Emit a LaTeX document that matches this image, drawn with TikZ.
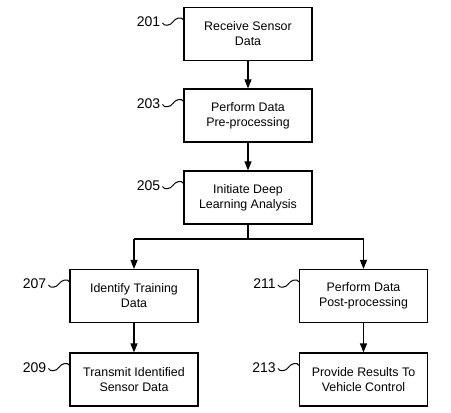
\documentclass[tikz,border=0pt]{standalone}
\usepackage{fontspec}
\setmainfont{Liberation Sans}
\usetikzlibrary{arrows.meta,calc}
\begin{document}
\begin{tikzpicture}[x=1pt,y=-1pt,
  stepbox/.style={draw,line width=1.2pt,minimum width=128pt,minimum height=53pt,align=center,font=\fontsize{12.4}{15}\selectfont,inner sep=0pt},
  lbl/.style={font=\fontsize{14}{15}\selectfont,inner sep=0pt,anchor=east},
  arr/.style={line width=1.2pt,-{Triangle[length=9pt,width=7pt]}},
  ln/.style={line width=1.2pt},
  sq/.style={line width=1pt}]
\useasboundingbox (0,0) rectangle (451,413);
\node[stepbox] (b1) at (248,34) {Receive Sensor\\Data};
\node[stepbox] (b3) at (248,115.5) {Perform Data\\Pre-processing};
\node[stepbox] (b5) at (248,197.5) {Initiate Deep\\Learning Analysis};
\node[stepbox] (b7) at (134,296) {Identify Training\\Data};
\node[stepbox] (b9) at (134,379.5) {Transmit Identified\\Sensor Data};
\node[stepbox] (b11) at (363.5,296) {Perform Data\\Post-processing};
\node[stepbox] (b13) at (363.5,379.5) {Provide Results To\\Vehicle Control};
\coordinate (j) at (248,239);
\coordinate (jl) at (134,239);
\coordinate (jr) at (363.5,239);
\draw[arr] (b1) -- (b3);
\draw[arr] (b3) -- (b5);
\draw[ln] (b5) -- (j);
\draw[ln] (jl) -- (jr);
\draw[arr] (jl) -- (b7);
\draw[arr] (jr) -- (b11);
\draw[arr] (b7) -- (b9);
\draw[arr] (b11) -- (b13);
\foreach \b/\t in {b1/201,b3/203,b5/205,b7/207,b9/209,b11/211,b13/213}{
  \node[lbl] (l\t) at ($(\b.north west)+(-23,15)$) {\t};
  \coordinate (e\t) at ($(\b.north west)+(0,13)$);
  \coordinate (s\t) at ($(\b.north west)+(-21,16)$);
  \coordinate (m\t) at ($(\b.north west)+(-10.5,15)$);
  \draw[sq] (s\t) to[out=-70,in=-120] (m\t) to[out=60,in=110] (e\t);
}
\end{tikzpicture}
\end{document}
